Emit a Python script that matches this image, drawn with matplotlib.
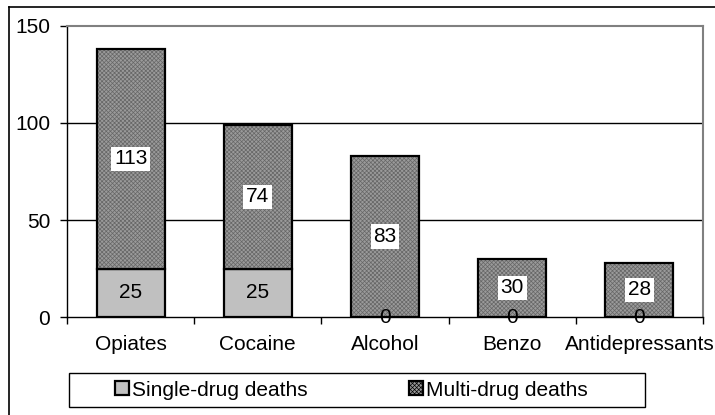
import numpy as np
import matplotlib
matplotlib.use("Agg")
import matplotlib.pyplot as plt
from matplotlib.patches import Patch, Rectangle
from matplotlib.lines import Line2D

# datos
drugs = ["Opiates", "Cocaine", "Alcohol", "Benzo", "Antidepressants"]
single_deaths = [25, 25, 0, 0, 0]
multi_deaths = [113, 74, 83, 30, 28]

plt.rcParams['font.family'] = ['Liberation Sans', 'DejaVu Sans']
plt.rcParams['hatch.linewidth'] = 0.5

W, H = 715, 415
fig = plt.figure(figsize=(W / 100, H / 100), dpi=100)
ax = fig.add_axes([67 / W, (H - 317) / H, 636 / W, 291 / H])

x = np.arange(len(drugs))
bw = 0.535
light = "#c0c0c0"
hatch_fill = "#9a9a9a"
hatch_line = "#666666"

b1 = ax.bar(x, single_deaths, bw, color=light, edgecolor="black", linewidth=1.6, zorder=3)
# relleno tramado para multi-drug
ax.bar(x, multi_deaths, bw, bottom=single_deaths, facecolor=hatch_fill,
       edgecolor=hatch_line, hatch="xxxxxxxx", linewidth=0, zorder=3)
b2 = ax.bar(x, multi_deaths, bw, bottom=single_deaths, fill=False,
            edgecolor="black", linewidth=1.6, zorder=4)

ax.bar_label(b1, labels=[str(v) for v in single_deaths], label_type="center",
             fontsize=15, zorder=5)
ax.bar_label(b2, labels=[str(v) for v in multi_deaths], label_type="center",
             fontsize=15, zorder=5,
             bbox=dict(facecolor="white", edgecolor="none", pad=2))

ax.set_xlim(-0.5, len(drugs) - 0.5)
ax.set_ylim(0, 150)
ax.set_yticks([0, 50, 100, 150])
ax.tick_params(axis="y", labelsize=15, length=5, width=1, pad=7, direction="out")

# marcas entre categorias, etiquetas en el centro
ax.set_xticks(np.arange(len(drugs) + 1) - 0.5)
ax.set_xticklabels([])
ax.set_xticks(x, minor=True)
ax.set_xticklabels(drugs, minor=True, fontsize=15)
ax.tick_params(axis="x", which="major", length=5, width=1, direction="out")
ax.tick_params(axis="x", which="minor", length=0, pad=13)

for yv in [50, 100]:
    ax.axhline(yv, color="black", linewidth=1, zorder=1)

ax.spines["left"].set_color("black")
ax.spines["bottom"].set_color("black")
ax.spines["top"].set_color("#808080")
ax.spines["right"].set_color("#808080")
for s in ax.spines.values():
    s.set_linewidth(1.5)
ax.spines["left"].set_linewidth(1)
ax.spines["bottom"].set_linewidth(1)

# leyenda
handles = [Patch(facecolor=light, edgecolor="black", linewidth=1.6),
           Patch(facecolor=hatch_fill, edgecolor="black", linewidth=1.6, hatch="xxxxxxxx")]
leg = fig.legend(handles, ["Single-drug deaths", "Multi-drug deaths"], ncol=2,
                 loc="center left", bbox_to_anchor=(115 / W, (H - 390) / H),
                 frameon=False, fontsize=15, handlelength=0.65, handleheight=0.65,
                 handletextpad=0.15, columnspacing=4.9, borderpad=0, borderaxespad=0)
fig.add_artist(Rectangle((69 / W, (H - 407) / H), 576 / W, 34 / H, transform=fig.transFigure,
                         fill=False, edgecolor="black", linewidth=1))

# borde exterior
fig.add_artist(Line2D([9 / W, 9 / W], [-0.1, (H - 7) / H], transform=fig.transFigure,
                      color="black", linewidth=1.2))
fig.add_artist(Line2D([9 / W, 1.1], [(H - 7) / H, (H - 7) / H], transform=fig.transFigure,
                      color="black", linewidth=1.2))

fig.savefig("out.png", dpi=100)
